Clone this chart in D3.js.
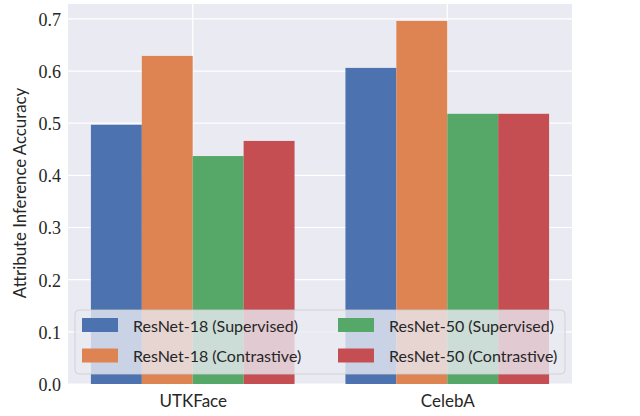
<!DOCTYPE html>
<html>
<head>
<meta charset="utf-8">
<script src="https://cdnjs.cloudflare.com/ajax/libs/d3/7.8.5/d3.min.js"></script>
<style>
  body { margin: 0; background: #fff; }
  svg { display: block; }
</style>
</head>
<body>
<svg id="chart" width="640" height="416"></svg>
<script>
// data
var datasets = ["UTKFace", "CelebA"];
var models = ["ResNet-18 (Supervised)", "ResNet-18 (Contrastive)", "ResNet-50 (Supervised)", "ResNet-50 (Contrastive)"];
var resnet18Supervised = [0.497, 0.606];
var resnet18Contrastive = [0.629, 0.696];
var resnet50Supervised = [0.437, 0.518];
var resnet50Contrastive = [0.466, 0.518];
var yTicks = [0.0, 0.1, 0.2, 0.3, 0.4, 0.5, 0.6, 0.7];
var colors = ["#4C72B0", "#DD8452", "#55A868", "#C44E52"];

var series = [resnet18Supervised, resnet18Contrastive, resnet50Supervised, resnet50Contrastive];

var sansFont = "Lato, 'Open Sans', 'DejaVu Sans', sans-serif";
var serifFont = "'Liberation Serif', 'DejaVu Serif', serif";

var svg = d3.select("#chart");
var margin = {left: 68, right: 68, top: 4, bottom: 32};
var width = 640 - margin.left - margin.right;
var height = 416 - margin.top - margin.bottom;

// scales: categorical positions like seaborn (x = 0, 1)
var x = d3.scaleLinear().domain([-0.49, 1.49]).range([0, width]);
var y = d3.scaleLinear().domain([0, 0.7285]).range([height, 0]);
var groupWidth = 0.8;
var barWidth = groupWidth / models.length;

var plot = svg.append("g").attr("transform", "translate(" + margin.left + "," + margin.top + ")");

// background
plot.append("rect").attr("width", width).attr("height", height).attr("fill", "#EAEAF2");

// gridlines
plot.append("g").selectAll("line").data(yTicks).enter().append("line")
  .attr("x1", 0).attr("x2", width)
  .attr("y1", function(d) { return y(d); }).attr("y2", function(d) { return y(d); })
  .attr("stroke", "#fff").attr("stroke-width", 1.2);
plot.append("g").selectAll("line").data(datasets).enter().append("line")
  .attr("x1", function(d, i) { return x(i); }).attr("x2", function(d, i) { return x(i); })
  .attr("y1", 0).attr("y2", height)
  .attr("stroke", "#fff").attr("stroke-width", 1.2);

// bars
series.forEach(function(vals, s) {
  plot.append("g").selectAll("rect").data(vals).enter().append("rect")
    .attr("x", function(d, i) { return x(i - groupWidth / 2 + s * barWidth); })
    .attr("width", x(barWidth) - x(0))
    .attr("y", function(d) { return y(d); })
    .attr("height", function(d) { return height - y(d); })
    .attr("fill", colors[s]);
});

// y axis
var yAxis = plot.append("g")
  .call(d3.axisLeft(y).tickValues(yTicks).tickFormat(d3.format(".1f")).tickSize(0).tickPadding(7));
yAxis.select(".domain").remove();
yAxis.attr("font-family", null);
yAxis.selectAll("text")
  .attr("font-family", serifFont)
  .attr("font-size", 18).attr("fill", "#262626").attr("dy", "0.36em");

// x axis
var xAxis = plot.append("g").attr("transform", "translate(0," + height + ")")
  .call(d3.axisBottom(x).tickValues([0, 1]).tickFormat(function(d) { return datasets[d]; }).tickSize(0).tickPadding(11));
xAxis.select(".domain").remove();
xAxis.attr("font-family", null);
xAxis.selectAll("text")
  .attr("font-family", sansFont)
  .attr("font-size", 17).attr("fill", "#262626");

// y label
svg.append("text")
  .attr("transform", "translate(26," + (margin.top + height / 2 - 1) + ") rotate(-90)")
  .attr("text-anchor", "middle")
  .attr("font-family", sansFont)
  .attr("font-size", 16.8).attr("fill", "#262626")
  .text("Attribute Inference Accuracy");

// legend
var legend = plot.append("g").attr("transform", "translate(7," + 306 + ")");
legend.append("rect")
  .attr("width", 490).attr("height", 64).attr("rx", 4)
  .attr("fill", "#EAEAF2").attr("fill-opacity", 0.8)
  .attr("stroke", "#cccccc").attr("stroke-opacity", 0.8);
var items = legend.selectAll(".item").data(models).enter().append("g")
  .attr("class", "item")
  .attr("transform", function(d, i) {
    return "translate(" + (Math.floor(i / 2) * 256) + "," + ((i % 2) * 30.5) + ")";
  });
items.append("rect")
  .attr("x", 7).attr("y", 8).attr("width", 36).attr("height", 14)
  .attr("fill", function(d, i) { return colors[i]; });
items.append("text")
  .attr("x", 58).attr("y", 16).attr("dy", "0.35em")
  .attr("font-family", sansFont)
  .attr("font-size", 16).attr("fill", "#262626")
  .text(function(d) { return d; });
</script>
</body>
</html>
